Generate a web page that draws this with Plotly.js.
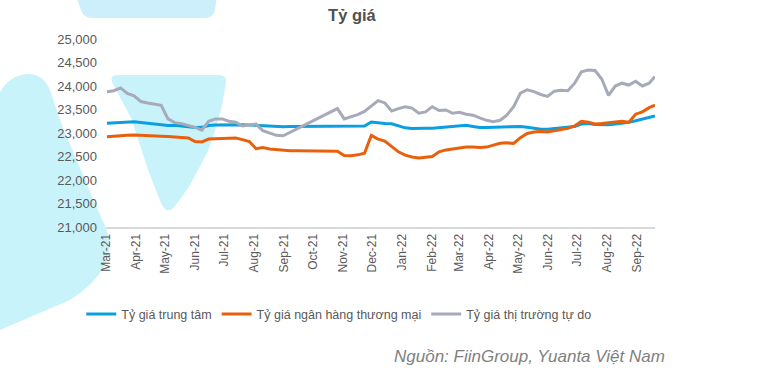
<!DOCTYPE html>
<html>
<head>
<meta charset="utf-8">
<script src="https://cdn.plot.ly/plotly-3.0.1.min.js"></script>
<style>
  html, body { margin: 0; padding: 0; background: #ffffff; }
  #wrap { position: relative; width: 765px; height: 371px; overflow: hidden; }
  #deco { position: absolute; left: 0; top: 0; z-index: 0; }
  #chart { position: absolute; left: 0; top: 0; width: 765px; height: 371px; z-index: 1; }
</style>
</head>
<body>
<div id="wrap">
  <svg id="deco" width="765" height="371" viewBox="0 0 765 371">
    <path d="M76 -4 L217 -4 L215 10 Q213 18 205 18 L92 18 Q84 18 81 10 Z" fill="#cdeefb"/>
    <path d="M0 92 Q10 75 28 74 Q45 74 51 93 L63 128 L78 163 L92 197 L106 228 Q114 248 104 266 Q95 284 70 300 L0 330 Z" fill="#c9f3fb"/>
    <path d="M117 75 Q110 75 112 82 L132 120 L148 170 L161 203 Q167 216 175 206 L189 187 L207 153 Q217 128 222 105 L226 83 Q227 75 219 75 Z" fill="#c9f3fb"/>
  </svg>
  <div id="chart"></div>
</div>
<script>
// ---- data (weekly readings) ----
var dates = [
  '2021-03-02','2021-03-09','2021-03-16','2021-03-23','2021-03-30','2021-04-06','2021-04-13','2021-04-20','2021-04-27',
  '2021-05-04','2021-05-11','2021-05-18','2021-05-25','2021-06-01','2021-06-08','2021-06-15','2021-06-22','2021-06-29',
  '2021-07-06','2021-07-13','2021-07-20','2021-07-27','2021-08-03','2021-08-10','2021-08-17','2021-08-24','2021-08-31',
  '2021-09-07','2021-09-14','2021-09-21','2021-09-28','2021-10-05','2021-10-12','2021-10-19','2021-10-26','2021-11-02',
  '2021-11-09','2021-11-16','2021-11-23','2021-11-30','2021-12-07','2021-12-14','2021-12-21','2021-12-28','2022-01-04',
  '2022-01-11','2022-01-18','2022-01-25','2022-02-01','2022-02-08','2022-02-15','2022-02-22','2022-03-01','2022-03-08',
  '2022-03-15','2022-03-22','2022-03-29','2022-04-05','2022-04-12','2022-04-19','2022-04-26','2022-05-03','2022-05-10',
  '2022-05-17','2022-05-24','2022-05-31','2022-06-07','2022-06-14','2022-06-21','2022-06-28','2022-07-05','2022-07-12',
  '2022-07-19','2022-07-26','2022-08-02','2022-08-09','2022-08-16','2022-08-23','2022-08-30','2022-09-06','2022-09-13',
  '2022-09-19'
];
var tyGiaTrungTam = [
  23205,23210,23220,23235,23240,23225,23210,23195,23180,
  23160,23165,23150,23130,23115,23120,23160,23170,23175,
  23175,23185,23175,23170,23160,23150,23145,23135,23135,
  23140,23140,23145,23145,23145,23150,23145,23140,23135,
  23140,23145,23150,23235,23210,23200,23195,23150,23110,
  23095,23090,23100,23100,23110,23120,23135,23150,23165,
  23140,23115,23115,23120,23125,23135,23140,23140,23120,
  23095,23080,23080,23095,23100,23110,23140,23190,23200,
  23180,23170,23175,23190,23205,23230,23260,23290,23330,
  23360
];
var tyGiaNganHang = [
  22920,22935,22945,22950,22955,22945,22940,22935,22930,
  22925,22920,22915,22895,22820,22810,22870,22880,22880,
  22890,22895,22860,22820,22665,22690,22660,22645,22630,
  22625,22625,22625,22625,22625,22625,22625,22610,22520,
  22515,22535,22570,22950,22870,22830,22720,22600,22530,
  22490,22470,22480,22500,22600,22640,22660,22680,22700,
  22700,22690,22700,22740,22780,22790,22780,22900,22990,
  23020,23030,23020,23050,23070,23100,23150,23250,23230,
  23190,23200,23215,23225,23250,23230,23400,23450,23540,
  23595
];
var tyGiaTuDo = [
  23880,23900,23960,23840,23790,23670,23640,23620,23590,
  23300,23220,23200,23160,23120,23060,23250,23300,23300,
  23250,23230,23150,23170,23190,23050,23000,22950,22940,
  null,null,null,null,null,null,null,23520,23300,
  23340,23390,23460,23580,23690,23640,23470,23520,23560,
  23530,23420,23450,23560,23480,23490,23420,23440,23400,
  23380,23320,23270,23240,23270,23380,23560,23850,23920,
  23880,23820,23780,23890,23910,23900,24060,24300,24340,
  24330,24150,23800,24000,24060,24020,24100,24000,24060,
  24200
];
var seriesNames = ['Tỷ giá trung tâm', 'Tỷ giá ngân hàng thương mại', 'Tỷ giá thị trường tự do'];
var seriesColors = ['#0a9fe1', '#e9600c', '#a7aab8'];

var FONT = 'Liberation Sans, Arial, sans-serif';
var TXT = '#595959';

var traces = [tyGiaTrungTam, tyGiaNganHang, tyGiaTuDo].map(function (vals, i) {
  return {
    type: 'scatter', mode: 'lines', x: dates, y: vals, name: seriesNames[i],
    connectgaps: true,
    line: { color: seriesColors[i], width: 3, shape: 'linear' },
    hoverinfo: 'skip'
  };
});

var layout = {
  width: 765, height: 371,
  margin: { l: 106, r: 110, t: 39, b: 144 },
  paper_bgcolor: 'rgba(0,0,0,0)',
  plot_bgcolor: 'rgba(0,0,0,0)',
  font: { family: FONT, color: TXT },
  title: {
    text: '<b>Tỷ giá</b>', font: { family: FONT, size: 16.5, color: '#505050' },
    xref: 'container', yref: 'container', x: 0.46, y: 0.96, xanchor: 'center', yanchor: 'middle'
  },
  showlegend: true,
  legend: {
    orientation: 'h', x: -0.045, y: -0.385, xanchor: 'left', yanchor: 'top',
    font: { family: FONT, size: 12.5, color: TXT }, itemwidth: 30,
    bgcolor: 'rgba(0,0,0,0)', traceorder: 'normal'
  },
  xaxis: {
    type: 'date', range: ['2021-03-01', '2022-09-19'],
    tick0: '2021-03-01', dtick: 'M1', tickformat: '%b-%y', tickangle: -90,
    showgrid: false, zeroline: false, showline: true, linecolor: '#d9d9d9', linewidth: 2,
    ticks: '', tickfont: { family: FONT, size: 12, color: TXT }
  },
  yaxis: {
    range: [21000, 25000], dtick: 500, tick0: 21000, tickformat: ',d',
    showgrid: false, zeroline: false, showline: false, ticks: '',
    ticklabelstandoff: 8,
    tickfont: { family: FONT, size: 13, color: TXT }
  },
  annotations: [{
    text: '<i>Nguồn: FiinGroup, Yuanta Việt Nam</i>', showarrow: false,
    xref: 'paper', yref: 'paper', x: 1.022, y: -0.69, xanchor: 'right', yanchor: 'middle',
    font: { family: FONT, size: 17, color: '#7f7f7f' }
  }]
};

Plotly.newPlot('chart', traces, layout, { staticPlot: true, displayModeBar: false });
</script>
</body>
</html>
